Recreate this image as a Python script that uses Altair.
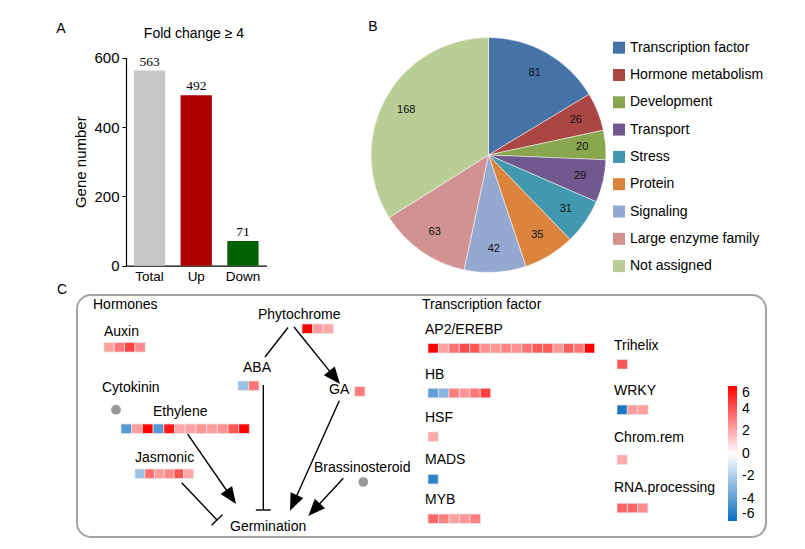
import math
import altair as alt
import pandas as pd

W, H = 789, 533
FONT = "Liberation Sans"

# ---------------- Panel A: gene numbers ----------------
bar_categories = ["Total", "Up", "Down"]
bar_values = [563, 492, 71]
bar_colors = ["#c6c6c6", "#ad0000", "#006100"]
bar_ticks = [0, 200, 400, 600]

# ---------------- Panel B: functional categories ----------------
pie_categories = ["Transcription factor", "Hormone metabolism", "Development", "Transport",
                  "Stress", "Protein", "Signaling", "Large enzyme family", "Not assigned"]
pie_values = [81, 26, 20, 29, 31, 35, 42, 63, 168]
pie_colors = ["#4572a7", "#aa4643", "#89a54e", "#71588f", "#4198af",
              "#db843d", "#93a9cf", "#d19392", "#b9cd96"]

# ---------------- Panel C: log2 fold changes per gene ----------------
auxin = [2.2, 3.2, 4.5, 2.8]
ethylene = [-4.2, 2.3, 6.0, -4.2, 5.4, 2.1, 2.2, 2.5, 2.3, 2.6, 4.0, 6.0]
jasmonic = [-2.5, 3.4, 2.3, 2.8, 4.0, 2.1]
aba = [-2.5, 3.2]
phytochrome = [6.0, 2.3, 2.0]
ga = [3.1]
ap2_erebp = [6.0, 2.2, 3.3, 4.2, 4.0, 2.6, 2.5, 2.9, 2.6, 3.3, 3.9, 3.9, 2.4, 3.8, 3.2, 6.0]
hb = [-4.0, -3.0, 3.0, 2.5, 3.2, 4.5]
hsf = [2.0]
mads = [-5.2]
myb = [3.6, 3.0, 2.2, 2.5, 3.0]
trihelix = [4.0]
wrky = [-5.6, 2.3, 2.3]
chrom_rem = [2.0]
rna_processing = [3.6, 3.6, 2.7]
colorbar_ticks = [-6, -4, -2, 0, 2, 4, 6]
heat_colors = ["#0a6fc2", "#ffffff", "#ff0000"]

# ---------------- layout of the diagram (pixels) ----------------
# name: (values, label_x, label_y, cells_x, cells_y, cell_w)
heat_layout = [
    ("Auxin", auxin, 96, 324, 96, 334.5, 10.3),
    ("Ethylene", ethylene, 145, 404, 113, 416, 10.7),
    ("Jasmonic", jasmonic, 127, 449.5, 127, 461, 9.75),
    ("ABA", aba, 235, 360, 230, 373, 10.5),
    ("Phytochrome", phytochrome, 250, 307, 294, 316, 10.5),
    ("GA", ga, 321, 382, 346.7, 378.7, 10.3),
    ("AP2/EREBP", ap2_erebp, 417, 322, 420, 335.5, 10.42),
    ("HB", hb, 417, 367, 420, 380.3, 10.45),
    ("HSF", hsf, 417, 410, 420, 424, 10.2),
    ("MADS", mads, 417, 452, 420, 466.5, 10.2),
    ("MYB", myb, 417, 492, 420, 506, 10.5),
    ("Trihelix", trihelix, 606, 338, 609, 351.5, 10.5),
    ("WRKY", wrky, 606, 383, 609, 397, 10.35),
    ("Chrom.rem", chrom_rem, 606, 430, 609, 447, 10.2),
    ("RNA.processing", rna_processing, 606, 480, 609, 495.3, 10.3),
]
cell_h = 9.5
plain_labels = [("Hormones", 85, 297), ("Cytokinin", 94, 379.5), ("Brassinosteroid", 306, 460),
                ("Germination", 222, 518.5), ("Transcription factor", 414, 297)]
dots = [(108, 401.7), (355.3, 474)]
edges = [
    (280, 319.5, 257, 349, "line"),
    (286, 319, 332, 376, "arrow"),
    (255.3, 377, 255.3, 502, "inhibit"),
    (331.3, 392.7, 282, 502.7, "arrow"),
    (335.3, 470.3, 300.3, 508, "arrow"),
    (179.3, 425.7, 228, 496, "arrow"),
    (173.7, 474.7, 209, 512, "inhibit"),
]
ARROW = "M0,-1L0.82,1L-0.82,1Z"
HEAD_LEN = 17.0
BAR_HALF = 7.5

# ---------------- build tables ----------------
cells = []
labels = []
for name, vals, lx, ly, cx, cy, cw in heat_layout:
    labels.append({"t": name, "x": lx, "y": ly})
    for i, v in enumerate(vals):
        cells.append({"g": name, "v": v, "x": cx + i * cw, "x2": cx + (i + 1) * cw,
                      "y": cy, "y2": cy + cell_h})
for t, x, y in plain_labels:
    labels.append({"t": t, "x": x, "y": y})
cells_df = pd.DataFrame(cells)
labels_df = pd.DataFrame(labels)
dots_df = pd.DataFrame([{"x": x, "y": y} for x, y in dots])

segs, heads = [], []
for x1, y1, x2, y2, kind in edges:
    dx, dy = x2 - x1, y2 - y1
    L = math.hypot(dx, dy)
    ux, uy = dx / L, dy / L
    if kind == "arrow":
        cxh, cyh = x2 - ux * HEAD_LEN / 2, y2 - uy * HEAD_LEN / 2
        segs.append({"x": x1, "y": y1, "x2": cxh, "y2": cyh})
        ang = math.degrees(math.atan2(dx, -dy)) % 360
        heads.append({"x": cxh, "y": cyh, "ang": ang})
    else:
        segs.append({"x": x1, "y": y1, "x2": x2, "y2": y2})
        if kind == "inhibit":
            px_, py_ = -uy, ux
            segs.append({"x": x2 - px_ * BAR_HALF, "y": y2 - py_ * BAR_HALF,
                         "x2": x2 + px_ * BAR_HALF, "y2": y2 + py_ * BAR_HALF})
segs_df = pd.DataFrame(segs)
heads_df = pd.DataFrame(heads)

# ---------------- Panel A ----------------
bar_df = pd.DataFrame({"cat": bar_categories, "n": bar_values, "col": bar_colors})
bx = alt.X("cat:N", sort=bar_categories,
           scale=alt.Scale(range=[118, 258.5], paddingInner=0.33, paddingOuter=0.17),
           axis=alt.Axis(orient="bottom", offset=-(H - 257.7), title=None, labelAngle=0,
                         ticks=False, labelFont=FONT, labelFontSize=13.5, labelColor="black",
                         labelPadding=4, domainColor="black", domainWidth=1.2))
by = alt.Y("n:Q", scale=alt.Scale(domain=[0, 600], range=[257.7, 49.7], nice=False),
           axis=alt.Axis(orient="left", offset=-118, values=bar_ticks, grid=False,
                         title="Gene number", titleFont=FONT, titleFontSize=15,
                         titleFontWeight="normal", titleColor="black", titlePadding=5,
                         labelFont=FONT, labelFontSize=15, labelColor="black",
                         tickSize=4, tickColor="black", labelPadding=3,
                         domainColor="black", domainWidth=1.2))
bars = alt.Chart(bar_df).mark_bar().encode(x=bx, y=by, color=alt.Color("col:N", scale=None))
bar_txt = alt.Chart(bar_df).mark_text(dy=-5, baseline="alphabetic", font="Liberation Serif",
                                      fontSize=13.5, color="black").encode(x=bx, y=by, text="n:Q")
panel_a = alt.layer(bars, bar_txt)

# ---------------- Panel B ----------------
pie_df = pd.DataFrame({"cat": pie_categories, "v": pie_values, "idx": list(range(len(pie_values)))})
theta = alt.Theta("v:Q", stack=True)
arc = alt.Chart(pie_df).mark_arc(outerRadius=117.5, stroke="white", strokeWidth=0.5).encode(
    theta=theta, order=alt.Order("idx:Q"),
    color=alt.Color("cat:N", scale=alt.Scale(domain=pie_categories, range=pie_colors),
                    legend=alt.Legend(orient="none", legendX=604, legendY=32.7, title=None,
                                      symbolType="square", symbolSize=144, symbolStrokeWidth=0,
                                      symbolOpacity=1, labelFont=FONT, labelFontSize=14,
                                      labelColor="black", rowPadding=13.3, labelOffset=4,
                                      padding=0)),
    x=alt.value(480.5), y=alt.value(147))
arc_txt = alt.Chart(pie_df).mark_text(radius=94, font=FONT, fontSize=11, color="#111").encode(
    theta=theta, order=alt.Order("idx:Q"), text="v:Q", x=alt.value(480.5), y=alt.value(147))
panel_b = alt.layer(arc, arc_txt)

# ---------------- Panel C ----------------
sx = alt.Scale(domain=[0, W], range=[0, W], nice=False, zero=False)
sy = alt.Scale(domain=[0, H], range=[0, H], nice=False, zero=False)
X = alt.X("x:Q", scale=sx, axis=None)
Y = alt.Y("y:Q", scale=sy, axis=None)

border_df = pd.DataFrame([{"x": 69, "x2": 758, "y": 287, "y2": 529}])
border = alt.Chart(border_df).mark_rect(cornerRadius=14, fillOpacity=0, stroke="#a3a3a3",
                                        strokeWidth=2).encode(x=X, x2="x2:Q", y=Y, y2="y2:Q")
heat = alt.Chart(cells_df).mark_rect(stroke="#e4e4e4", strokeWidth=0.7).encode(
    x=X, x2="x2:Q", y=Y, y2="y2:Q",
    color=alt.Color("v:Q", title=None,
                    scale=alt.Scale(domain=[-6, 0, 6], range=heat_colors, interpolate="rgb"),
                    legend=alt.Legend(orient="none", legendX=720, legendY=378, direction="vertical",
                                      gradientLength=135, gradientThickness=9, values=colorbar_ticks,
                                      labelExpr="'' + datum.value",
                                      labelFont=FONT, labelFontSize=14, labelColor="black",
                                      labelOffset=5, gradientStrokeWidth=0, padding=0)))
rules = alt.Chart(segs_df).mark_rule(color="black", strokeWidth=1.4).encode(
    x=X, y=Y, x2="x2:Q", y2="y2:Q")
arrowheads = alt.Chart(heads_df).mark_point(shape=ARROW, filled=True, color="black", opacity=1,
                                            size=HEAD_LEN ** 2, strokeWidth=0).encode(
    x=X, y=Y, angle=alt.Angle("ang:Q", scale=None))
dot_marks = alt.Chart(dots_df).mark_point(shape="circle", filled=True, color="#999999",
                                          opacity=1, size=95).encode(x=X, y=Y)
node_txt = alt.Chart(labels_df).mark_text(align="left", baseline="middle", font=FONT,
                                          fontSize=14, color="black").encode(x=X, y=Y, text="t:N")

annot_df = pd.DataFrame([
    {"t": "A", "x": 53, "y": 21, "a": "center"},
    {"t": "B", "x": 365, "y": 19, "a": "center"},
    {"t": "C", "x": 54, "y": 282, "a": "center"},
])
letters = alt.Chart(annot_df).mark_text(font=FONT, fontSize=14, color="black",
                                        baseline="middle").encode(x=X, y=Y, text="t:N")
title_df = pd.DataFrame([{"t": "Fold change \u2265 4", "x": 186, "y": 25.5}])
title = alt.Chart(title_df).mark_text(font=FONT, fontSize=14, color="black",
                                      baseline="middle").encode(x=X, y=Y, text="t:N")

panel_c = alt.layer(border, rules, arrowheads, heat, dot_marks, node_txt, letters, title)

chart = alt.layer(panel_a, panel_b, panel_c).resolve_scale(
    x="independent", y="independent", color="independent"
).properties(
    width=W, height=H, autosize=alt.AutoSizeParams(type="none"), padding=0
).configure_view(stroke=None)

chart.save("out.html", embed_options={"renderer": "svg", "actions": False})
